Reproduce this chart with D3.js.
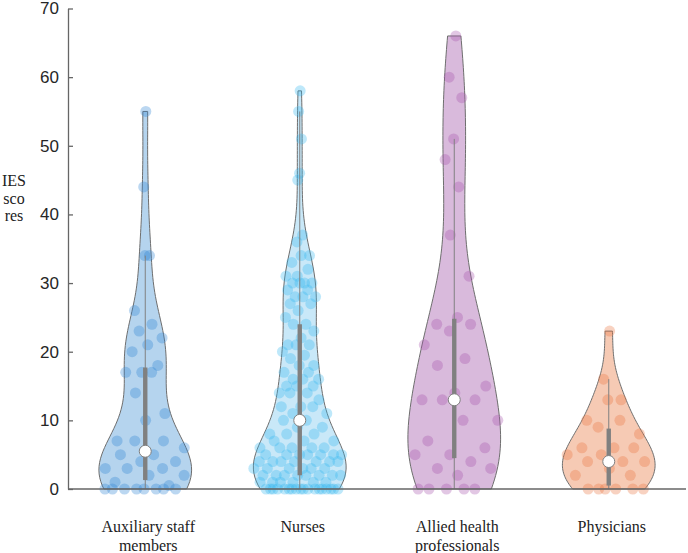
<!DOCTYPE html>
<html>
<head>
<meta charset="utf-8">
<script src="https://cdn.jsdelivr.net/npm/d3@7"></script>
<style>
  body { margin: 0; background: #fff; }
  svg { display: block; }
</style>
</head>
<body>
<script>
// groups and the IES scores
const categories = [["Auxiliary staff", "members"], ["Nurses"], ["Allied health", "professionals"], ["Physicians"]];

const auxiliary = [55, 44, 34, 34, 26, 24, 23, 22, 21, 20, 18, 17, 17, 17, 14, 11, 10, 7, 7, 7, 6, 5, 5,
  4, 4, 3, 3, 3, 2, 2, 1, 0.5, 0, 0, 0, 0, 0, 0, 0, 0];

const nurses = [58, 55, 51, 46, 45, 37, 36, 34, 34, 33, 32, 31, 31, 30, 30, 30, 30, 29, 29, 28, 28, 28,
  27, 27, 26, 25, 24, 24, 23, 22, 21, 21, 21, 20, 19.5, 19, 18, 18, 17, 17, 16, 16, 16, 15, 15, 15, 14,
  14, 14, 13, 12, 12, 12, 11, 11, 10, 10, 9, 9, 8, 8, 8, 7, 7, 7, 6, 6, 6, 6, 6, 5, 5, 5, 5, 5, 5, 5,
  4, 4, 4, 4, 4, 4, 4, 3, 3, 3, 3, 3, 3, 2, 2, 2, 2, 2, 2, 2, 2, 1, 1, 1, 1, 1, 1,
  0, 0, 0, 0, 0, 0, 0, 0, 0, 0, 0, 0, 0, 0, 0, 0, 0, 0];

const allied = [66, 60, 57, 51, 48, 44, 37, 31, 25, 24, 24, 23, 21, 19, 18, 15, 14, 13, 13, 13, 10, 10,
  7, 6, 5, 5, 4, 3, 3, 2, 0, 0, 0, 0, 0];

const physicians = [23, 16, 13, 13, 10, 10, 9, 8, 6, 6, 6, 5, 5, 4, 4, 4, 3, 2, 2, 0, 0, 0, 0, 0, 0];

// box summary as drawn in the picture
const medians = [5.5, 10, 13, 4];
const q1 = [1.3, 2, 4.5, 0.5];
const q3 = [17.7, 24, 24.8, 8.8];
const whiskerLo = [0, 0, 0, 0];
const whiskerHi = [34, 55, 51, 16];

const yTicks = [0, 10, 20, 30, 40, 50, 60, 70];
const yLabel = ["IES", "sco", "res"];

const fills = ["#b5d4ee", "#c9e8f8", "#d9badc", "#f6cab4"];
const dots = ["#2a84d2", "#34b6ee", "#a452ab", "#e8743f"];

const groups = [auxiliary, nurses, allied, physicians];

const width = 688;
const height = 553;

let svg = d3.select('body')
  .append('svg')
  .attr('width', width)
  .attr('height', height);

let x = d3.scaleBand()
  .domain(d3.range(categories.length))
  .range([68, 686]);

let y = d3.scaleLinear()
  .domain([0, 70])
  .range([489, 8.5]);

const halfWidth = 0.3 * x.step();

function center(i) {
  return x(i) + x.bandwidth() / 2;
}

// gaussian kernel density, bandwidth like ksdensity's default
function makeDensity(data) {
  let med = d3.median(data);
  let mad = d3.median(data, d => Math.abs(d - med));
  let sig = mad / 0.6745;
  if (sig === 0) sig = d3.deviation(data);
  let bw = sig * Math.pow(4 / (3 * data.length), 0.2);
  return v => d3.mean(data, d => Math.exp(-0.5 * ((v - d) / bw) ** 2)) / bw;
}

groups.forEach((data, i) => {
  let cx = center(i);
  let dens = makeDensity(data);
  let lo = d3.min(data), hi = d3.max(data);
  let grid = d3.range(0, 101).map(k => lo + (hi - lo) * k / 100);
  let peak = d3.max(grid, dens);
  let w = v => dens(v) / peak * halfWidth;

  let g = svg.append('g');

  g.append('path')
    .datum(grid)
    .attr('d', d3.area()
      .x0(v => cx - w(v))
      .x1(v => cx + w(v))
      .y(v => y(v)))
    .attr('fill', fills[i])
    .attr('stroke', '#6e6e6e')
    .attr('stroke-width', 1);

  g.selectAll('circle.pt')
    .data(data)
    .enter()
    .append('circle')
    .attr('class', 'pt')
    .attr('cx', (v, k) => {
      let j = ((k + 1) * 0.6180339887) % 1 * 2 - 1;
      return cx + j * w(v);
    })
    .attr('cy', v => y(v))
    .attr('r', 5.5)
    .attr('fill', dots[i])
    .attr('fill-opacity', 0.32);

  g.append('line')
    .attr('x1', cx).attr('x2', cx)
    .attr('y1', y(whiskerLo[i])).attr('y2', y(whiskerHi[i]))
    .attr('stroke', '#808080')
    .attr('stroke-width', 1);

  g.append('rect')
    .attr('x', cx - 2.2)
    .attr('width', 4.4)
    .attr('y', y(q3[i]))
    .attr('height', y(q1[i]) - y(q3[i]))
    .attr('fill', '#808080');

  g.append('circle')
    .attr('cx', cx)
    .attr('cy', y(medians[i]))
    .attr('r', 6)
    .attr('fill', '#fff')
    .attr('stroke', '#808080')
    .attr('stroke-width', 1);
});

// axes
let yAxis = svg.append('g')
  .attr('transform', 'translate(68,0)')
  .call(d3.axisLeft(y).tickValues(yTicks).tickSizeInner(-5).tickSizeOuter(0).tickPadding(9));

yAxis.selectAll('path, line')
  .attr('stroke', '#666')
  .attr('stroke-width', 1.3);
yAxis.selectAll('text')
  .attr('font-family', '"Liberation Sans", Arial, sans-serif')
  .attr('font-size', 17)
  .attr('fill', '#262626');

svg.append('line')
  .attr('x1', x.range()[0]).attr('x2', x.range()[1])
  .attr('y1', y(0)).attr('y2', y(0))
  .attr('stroke', '#666')
  .attr('stroke-width', 1.3);

svg.append('text')
  .attr('font-family', '"Liberation Serif", "Times New Roman", serif')
  .attr('font-size', 16)
  .attr('fill', '#222')
  .attr('text-anchor', 'middle')
  .selectAll('tspan')
  .data(yLabel)
  .enter()
  .append('tspan')
  .attr('x', 14)
  .attr('y', (d, k) => 186 + k * 17.5)
  .text(d => d);

svg.selectAll('text.cat')
  .data(categories)
  .enter()
  .append('text')
  .attr('class', 'cat')
  .attr('font-family', '"Liberation Serif", "Times New Roman", serif')
  .attr('font-size', 16)
  .attr('fill', '#222')
  .attr('text-anchor', 'middle')
  .each(function (lines, i) {
    d3.select(this).selectAll('tspan')
      .data(lines)
      .enter()
      .append('tspan')
      .attr('x', center(i) + 3)
      .attr('y', (d, k) => 532 + k * 18.5)
      .text(d => d);
  });
</script>
</body>
</html>
